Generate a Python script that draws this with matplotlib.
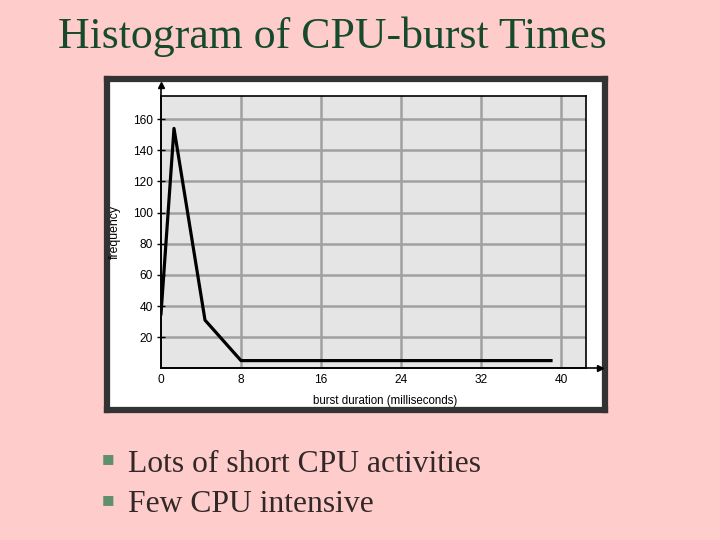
import matplotlib.pyplot as plt

# values
burst_ms = [0, 1.3, 4.4, 8, 39]
frequency = [35, 154, 31, 5, 5]
x_ticks = [0, 8, 16, 24, 32, 40]
y_ticks = [20, 40, 60, 80, 100, 120, 140, 160]
bullets = ["Lots of short CPU activities", "Few CPU intensive"]

W, H = 720, 540
fig = plt.figure(figsize=(7.2, 5.4), dpi=100)
fig.patch.set_facecolor('#ffcccc')


def frac(x0, y0, x1, y1):
    # pixel box (top-left origin) -> figure fraction rect
    return [x0 / W, 1 - y1 / H, (x1 - x0) / W, (y1 - y0) / H]


# framed picture panel
box = fig.add_axes(frac(107, 79, 605, 410))
box.set_facecolor('white')
box.set_xticks([])
box.set_yticks([])
for s in box.spines.values():
    s.set_color('#333333')
    s.set_linewidth(4.5)

ax = fig.add_axes(frac(161, 95.7, 586, 368.4))
ax.set_facecolor('#e5e5e5')
ax.set_xlim(0, 42.5)
ax.set_ylim(0, 175)

for x in x_ticks[1:]:
    ax.axvline(x, color='#a0a0a0', linewidth=1.8, zorder=1)
for y in y_ticks:
    ax.axhline(y, color='#a0a0a0', linewidth=1.8, zorder=1)

ax.plot(burst_ms, frequency, color='black', linewidth=2.3, zorder=3)

ax.set_xticks(x_ticks)
ax.set_yticks(y_ticks)
ax.tick_params(axis='y', direction='inout', length=6, width=1, pad=3, labelsize=8.6)
ax.tick_params(axis='x', length=0, pad=4, labelsize=8.6)
for lab in ax.get_xticklabels() + ax.get_yticklabels():
    lab.set_fontfamily('Liberation Sans')

for s in ax.spines.values():
    s.set_linewidth(1.2)
    s.set_color('black')

# axis arrows running past the plot area
ax.plot([0, 1.033], [0, 0], color='black', linewidth=1.2, transform=ax.transAxes, clip_on=False)
ax.plot(1.033, 0, '>', color='black', markersize=5, transform=ax.transAxes, clip_on=False)
ax.plot([0, 0], [0, 1.039], color='black', linewidth=1.2, transform=ax.transAxes, clip_on=False)
ax.plot(0, 1.039, '^', color='black', markersize=5, transform=ax.transAxes, clip_on=False)

ax.set_xlabel('burst duration (milliseconds)', fontsize=8.3, family='Liberation Sans')
ax.xaxis.set_label_coords(0.527, -0.098)
ax.set_ylabel('frequency', fontsize=8.8, family='Liberation Sans')
ax.yaxis.set_label_coords(-0.095, 0.5)

fig.text(332 / W, 1 - 37 / H, 'Histogram of CPU-burst Times', fontsize=31.6,
         family='Liberation Serif', color='#174a2c', ha='center', va='center')

for i, txt in enumerate(bullets):
    yc = 464 + i * 41
    fig.text(108 / W, 1 - (yc - 5) / H, '■', fontsize=9.5, family='DejaVu Sans',
             color='#5f8f6f', ha='center', va='center')
    fig.text(128 / W, 1 - yc / H, txt, fontsize=22.8, family='Liberation Serif',
             color='#332828', ha='left', va='center')

fig.savefig('out.png', dpi=100, facecolor=fig.get_facecolor())
